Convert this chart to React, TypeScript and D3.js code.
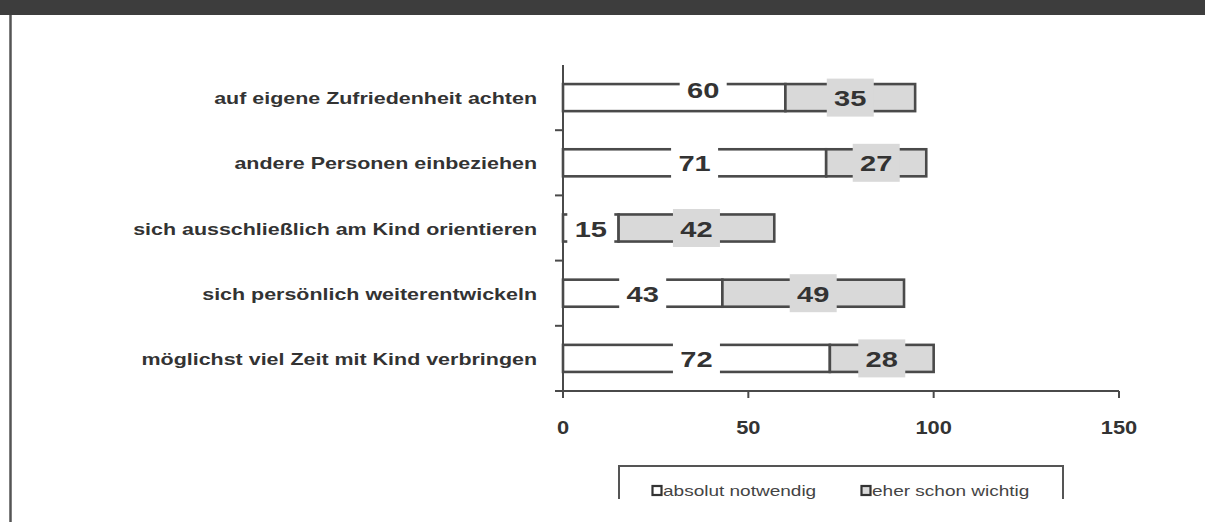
import React from "react";
import * as d3 from "d3";

const categories = [
  "auf eigene Zufriedenheit achten",
  "andere Personen einbeziehen",
  "sich ausschließlich am Kind orientieren",
  "sich persönlich weiterentwickeln",
  "möglichst viel Zeit mit Kind verbringen",
];
const absolutNotwendig = [60, 71, 15, 43, 72];
const eherSchonWichtig = [35, 27, 42, 49, 28];
const seriesNames = ["absolut notwendig", "eher schon wichtig"];
const xTicks = [0, 50, 100, 150];

const W = 1205;
const H = 522;
const FONT = "'Liberation Sans', Arial, sans-serif";
const SX = 1.3;
const TEXT = "#333";
const LINE = "#4a4a4a";
const GRAY = "#d9d9d9";

export default function App() {
  React.useEffect(() => {
    document.body.style.margin = "0";
    document.documentElement.style.overflow = "hidden";
  }, []);

  const x = d3.scaleLinear().domain([0, 150]).range([563, 1119]);
  const y = d3
    .scaleBand<string>()
    .domain(categories)
    .range([65, 391])
    .paddingInner(0.585)
    .paddingOuter(0.2925);
  const step = y.step();
  const bw = y.bandwidth();

  const stacked = categories.map((c, i) => {
    const a = absolutNotwendig[i];
    const b = eherSchonWichtig[i];
    return [
      { cat: c, i, s: 0, x0: 0, x1: a, v: a, fill: "#fff" },
      { cat: c, i, s: 1, x0: a, x1: a + b, v: b, fill: GRAY },
    ];
  });

  const boxW = 47;
  const boxH = 38;

  return (
    <svg
      width={W}
      height={H}
      style={{ position: "absolute", left: 0, top: 0, background: "#fff" }}
      fontFamily={FONT}
    >
      <rect x={0} y={0} width={W} height={15} fill="#3d3d3d" />
      <line x1={10.5} x2={10.5} y1={15} y2={H} stroke="#555" strokeWidth={2.5} />

      {/* bars */}
      {stacked.flat().map((d) => {
        const y0 = y(d.cat)!;
        return (
          <rect
            key={`b${d.i}-${d.s}`}
            x={x(d.x0)}
            y={y0}
            width={x(d.x1) - x(d.x0)}
            height={bw}
            fill={d.fill}
            stroke={LINE}
            strokeWidth={2.6}
          />
        );
      })}

      {/* y axis */}
      <line x1={563} x2={563} y1={65} y2={397} stroke={LINE} strokeWidth={2} />
      {d3.range(1, categories.length + 1).map((k) => (
        <line
          key={`yt${k}`}
          x1={555}
          x2={563}
          y1={65 + k * step}
          y2={65 + k * step}
          stroke={LINE}
          strokeWidth={2}
        />
      ))}

      {/* x axis */}
      <line x1={555} x2={x(150)} y1={391} y2={391} stroke={LINE} strokeWidth={2} />
      {xTicks.map((t) => (
        <g key={`xt${t}`}>
          <line x1={x(t)} x2={x(t)} y1={391} y2={398} stroke={LINE} strokeWidth={2} />
          <text
            transform={`translate(${x(t)},427) scale(1.15,1)`}
            textAnchor="middle"
            dominantBaseline="central"
            fontSize={19}
            fontWeight="bold"
            fill={TEXT}
          >
            {t}
          </text>
        </g>
      ))}

      {/* value labels */}
      {stacked.flat().map((d) => {
        let cx = (x(d.x0) + x(d.x1)) / 2;
        let cy = y(d.cat)! + bw / 2;
        if (d.i === 0 && d.s === 0) {
          cx += 29;
          cy -= 8;
        }
        return (
          <g key={`l${d.i}-${d.s}`}>
            <rect
              x={cx - boxW / 2}
              y={cy - boxH / 2}
              width={boxW}
              height={boxH}
              fill={d.fill}
            />
            <text
              transform={`translate(${cx},${cy + 1}) scale(1.32,1)`}
              textAnchor="middle"
              dominantBaseline="central"
              fontSize={22}
              fontWeight="bold"
              fill={TEXT}
            >
              {d.v}
            </text>
          </g>
        );
      })}

      {/* category labels */}
      {categories.map((c) => (
        <text
          key={c}
          transform={`translate(537,${y(c)! + bw / 2 + 1}) scale(${SX},1)`}
          textAnchor="end"
          dominantBaseline="central"
          fontSize={16.5}
          fontWeight="bold"
          fill={TEXT}
        >
          {c}
        </text>
      ))}

      {/* legend */}
      <path
        d="M619,499 V466 H1063 V499"
        fill="none"
        stroke="#555"
        strokeWidth={2}
      />
      {seriesNames.map((n, i) => {
        const mx = i === 0 ? 657 : 866;
        return (
          <g key={n}>
            <rect
              x={mx - 4.5}
              y={486}
              width={9}
              height={9}
              fill={i === 0 ? "#fff" : GRAY}
              stroke="#333"
              strokeWidth={2.2}
            />
            <text
              transform={`translate(${mx + 6},491) scale(1.34,1)`}
              dominantBaseline="central"
              fontSize={14.2}
              fill="#444"
            >
              {n}
            </text>
          </g>
        );
      })}
    </svg>
  );
}
